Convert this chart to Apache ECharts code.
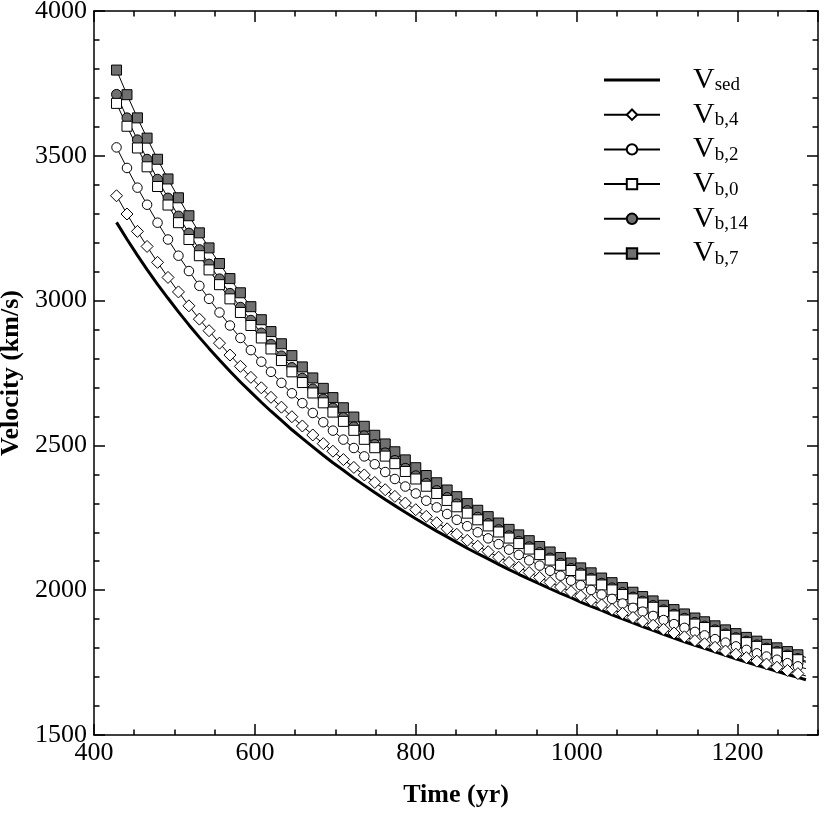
<!DOCTYPE html>
<html><head><meta charset="utf-8">
<script src="https://cdn.jsdelivr.net/npm/echarts@6/dist/echarts.min.js"></script>
<style>html,body{margin:0;padding:0;background:#fff}#c{width:830px;height:830px}</style>
</head><body><div id="c"></div>
<script>
// ---- data ----
const times = [428,441,454,466,479,492,505,518,531,543,556,569,582,595,608,620,633,646,659,672,685,697,710,723,736,749,762,774,787,800,813,826,839,851,864,877,890,903,916,928,941,954,967,980,993,1005,1018,1031,1044,1057,1070,1082,1095,1108,1121,1134,1147,1159,1172,1185,1198,1211,1224,1236,1249,1262,1275,1285];
const vSed = [3270,3212,3156,3107,3056,3008,2961,2916,2873,2835,2795,2756,2719,2684,2649,2618,2586,2554,2524,2495,2466,2440,2414,2387,2362,2337,2313,2292,2269,2247,2225,2204,2184,2165,2145,2126,2108,2089,2071,2055,2038,2022,2005,1989,1974,1959,1944,1930,1915,1901,1887,1874,1861,1848,1835,1822,1810,1799,1787,1775,1763,1752,1741,1731,1720,1709,1699,1691];
const vB4 = [3362,3299,3239,3187,3132,3080,3030,2982,2936,2896,2853,2812,2773,2735,2699,2666,2632,2599,2567,2536,2506,2480,2451,2424,2398,2372,2347,2324,2301,2278,2255,2233,2212,2193,2172,2152,2133,2114,2096,2079,2061,2044,2027,2011,1995,1980,1965,1949,1934,1920,1906,1893,1879,1865,1852,1839,1826,1815,1803,1790,1779,1767,1755,1745,1734,1723,1712,1704];
const vB2 = [3529,3458,3390,3331,3269,3211,3155,3102,3051,3006,2959,2914,2871,2829,2789,2754,2716,2680,2646,2612,2580,2551,2520,2491,2462,2435,2408,2384,2358,2334,2309,2286,2263,2243,2221,2200,2179,2159,2140,2122,2103,2085,2067,2050,2033,2017,2001,1985,1970,1954,1939,1926,1911,1897,1883,1870,1856,1844,1831,1819,1806,1794,1782,1771,1760,1748,1737,1729];
const vB0 = [3681,3602,3527,3462,3394,3330,3269,3211,3155,3106,3055,3006,2959,2914,2871,2833,2793,2754,2717,2681,2647,2615,2583,2552,2521,2492,2463,2437,2410,2384,2359,2334,2310,2288,2266,2243,2222,2201,2180,2161,2142,2123,2104,2086,2068,2052,2035,2018,2001,1985,1970,1956,1941,1926,1911,1897,1883,1871,1857,1844,1831,1819,1806,1795,1783,1771,1760,1751];
const vB14 = [3712,3631,3555,3488,3419,3354,3292,3233,3176,3126,3075,3025,2977,2932,2888,2849,2809,2769,2732,2695,2660,2629,2596,2564,2533,2503,2474,2448,2421,2395,2369,2344,2320,2298,2275,2252,2230,2209,2188,2169,2150,2130,2111,2093,2075,2059,2041,2024,2008,1992,1976,1962,1947,1932,1917,1903,1889,1876,1863,1849,1836,1824,1811,1800,1788,1776,1764,1755];
const vB7 = [3796,3711,3631,3561,3488,3420,3355,3293,3234,3182,3128,3076,3027,2979,2934,2893,2851,2810,2771,2733,2697,2665,2630,2598,2566,2535,2505,2478,2450,2423,2396,2371,2346,2323,2299,2276,2254,2232,2210,2191,2171,2151,2132,2113,2094,2077,2060,2042,2026,2009,1993,1978,1963,1948,1933,1918,1904,1891,1877,1863,1850,1837,1824,1813,1801,1788,1777,1768];
const xTickLabels = [400,600,800,1000,1200];
const yTickLabels = [1500,2000,2500,3000,3500,4000];
const legendNames = ['sed','b,4','b,2','b,0','b,14','b,7'];

// ---- chart ----
const FF = 'Liberation Serif';
const BLACK = '#000';
const GRAY = '#707070';
function pts(vals){
  return vals.map((v,i)=> i===vals.length-1 ? {value:[times[i],v], symbol:'none'} : [times[i],v]);
}
function markerSeries(name, vals, symbol, size, fill){
  return {
    type:'line', name:name, data:pts(vals), symbol:symbol, symbolSize:size,
    showAllSymbol:true, animation:false, silent:true,
    lineStyle:{color:BLACK, width:1},
    itemStyle:{color:fill, borderColor:BLACK, borderWidth:1}
  };
}
const xMin = 400, xMax = 1300, yMin = yTickLabels[0], yMax = yTickLabels[yTickLabels.length-1];
const tickStyle = {color:BLACK, width:1.5};
function xAx(pos, interval, len, labels, lineShow){
  return {
    type:'value', position:pos, min:xMin, max:xMax, interval:interval,
    axisLine:{show:lineShow, lineStyle:{color:BLACK, width:1.5}},
    axisTick:{show:true, inside:true, length:len, lineStyle:tickStyle},
    axisLabel:{show:labels, fontFamily:FF, fontSize:26, color:BLACK, margin:5, showMaxLabel:false,
      formatter:v=> xTickLabels.includes(v) ? String(v) : ''},
    splitLine:{show:false}
  };
}
const xAxes = [xAx('bottom',200,11,true,true), xAx('bottom',50,5.5,false,false), xAx('top',200,11,false,true), xAx('top',50,5.5,false,false)];
Object.assign(xAxes[0], {name:'Time (yr)', nameLocation:'middle', nameGap:47,
  nameTextStyle:{fontFamily:FF, fontWeight:'bold', fontSize:26, color:BLACK}});
function yAx(pos, labels){
  return {
    type:'value', position:pos, min:yMin, max:yMax, interval:500,
    axisLine:{show:true, lineStyle:{color:BLACK, width:1.5}},
    axisTick:{show:true, inside:true, length:11, lineStyle:tickStyle},
    minorTick:{show:true, splitNumber:5, length:5.5, lineStyle:tickStyle},
    axisLabel:{show:labels, fontFamily:FF, fontSize:26, color:BLACK, margin:7,
      formatter:v=> yTickLabels.includes(v) ? String(v) : ''},
    splitLine:{show:false}, minorSplitLine:{show:false}
  };
}
const yAxes = [yAx('left',true), yAx('right',false)];
Object.assign(yAxes[0], {name:'Velocity (km/s)', nameLocation:'middle', nameGap:52, nameRotate:90,
  nameTextStyle:{fontFamily:FF, fontWeight:'bold', fontSize:26, color:BLACK}});

const series = [
  markerSeries('b,7', vB7, 'rect', 10, GRAY),
  markerSeries('b,14', vB14, 'circle', 10, GRAY),
  markerSeries('b,0', vB0, 'rect', 10, '#fff'),
  markerSeries('b,2', vB2, 'circle', 9.5, '#fff'),
  markerSeries('b,4', vB4, 'diamond', 12, '#fff'),
  {type:'line', name:'sed', data:pts(vSed), symbol:'none', animation:false, silent:true,
   lineStyle:{color:BLACK, width:3}, itemStyle:{color:BLACK}}
];

const chart = echarts.init(document.getElementById('c'), null, {renderer:'canvas'});
chart.setOption({
  backgroundColor:'#fff',
  animation:false,
  grid:{left:94, right:12, top:11, bottom:95, outerBoundsMode:'none'},
  xAxis:xAxes,
  yAxis:yAxes,
  legend:{
    orient:'vertical', left:603, top:65, padding:0, itemWidth:56, itemHeight:13, itemGap:4.7,
    selectedMode:false,
    data:legendNames.map(n=> n==='sed' ? {name:n, icon:'path://M0,0L56,0L56,3L0,3Z'} : n),
    formatter:name=> '{v|V}{s|' + name + '}',
    textStyle:{color:BLACK, fontFamily:FF,
      rich:{
        v:{fontSize:30, lineHeight:30, fontFamily:FF, color:BLACK, padding:[0,0,0,28]},
        s:{fontSize:19, lineHeight:16, fontFamily:FF, color:BLACK, verticalAlign:'bottom'}
      }}
  },
  series:series
});
</script>
</body></html>
